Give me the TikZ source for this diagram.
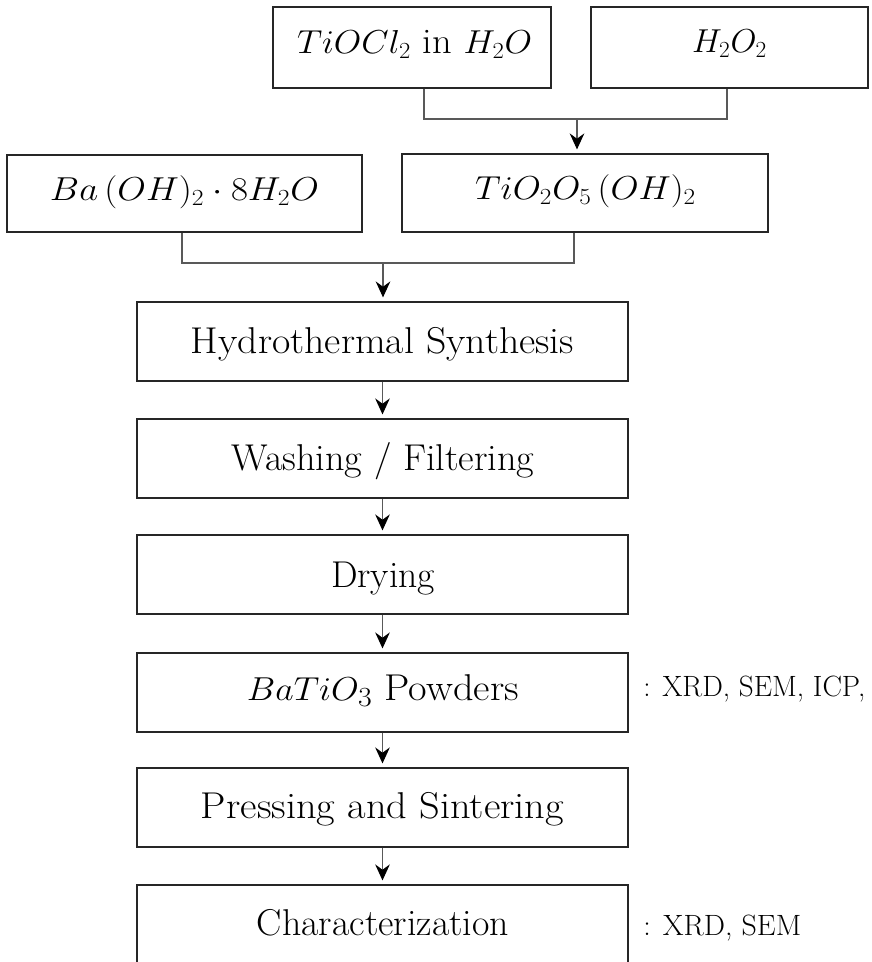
\documentclass[tikz,border=0pt]{standalone}
\usepackage{graphicx}
\usetikzlibrary{arrows.meta}
% one pixel of the layout grid
\newlength\pxu
\setlength\pxu{0.75pt}
% set a text to a given width (in grid pixels), keeping its height
\newcommand\wfit[2]{\resizebox{#1\pxu}{\height}{#2}}

\begin{document}
\begin{tikzpicture}[x=0.75pt,y=-0.75pt,
  pbox/.style 2 args={draw=black!85,line width=0.9pt,inner sep=0pt,
    minimum width=#1*0.75pt,minimum height=#2*0.75pt},
  lbl/.style={anchor=base,inner sep=0pt,font=\fontsize{27}{31}\selectfont},
  step lbl/.style={lbl,font=\fontsize{28}{32}\selectfont},
  note/.style={anchor=base west,inner sep=0pt,font=\fontsize{22}{26}\selectfont},
  conn/.style={draw=black!65,line width=0.8pt},
  arr/.style={conn,-{Stealth[length=12pt,width=11pt,inset=4pt,color=black]},
    shorten >=3pt}]
\useasboundingbox (0,0) rectangle (871,962);

% starting materials
\node[pbox={278}{81}] (toa) at (412,47.5) {};
\node[lbl] (toat) at (414.5,54) {\wfit{235}{$TiOCl_2$\ in\ $H_2O$}};
\node[pbox={277}{81}] (tob) at (729.5,47.5) {};
\node[lbl] (tobt) at (729.5,53) {\wfit{75}{$H_2O_2$}};

\node[pbox={355}{77}] (ba) at (184.5,193.5) {};
\node[lbl] (bat) at (184.5,201) {\wfit{269}{$Ba\,(OH)_2\cdot 8H_2O$}};
\node[pbox={366}{78}] (tio) at (585,193) {};
\node[lbl] (tiot) at (585.5,200) {\wfit{221}{$TiO_2O_5\,(OH)_2$}};

% process steps
\node[pbox={491}{79}] (hyd) at (382.5,341.5) {};
\node[step lbl] (hydt) at (382.5,353) {\wfit{383}{Hydrothermal Synthesis}};
\node[pbox={491}{79}] (wash) at (382.5,458.5) {};
\node[step lbl] (washt) at (383,470) {\wfit{303}{Washing / Filtering}};
\node[pbox={491}{79}] (dry) at (382.5,574.5) {};
\node[step lbl] (dryt) at (383,587) {\wfit{104}{Drying}};
\node[pbox={491}{79}] (pow) at (382.5,692.5) {};
\node[step lbl] (powt) at (383,700) {\wfit{272}{$BaTiO_3$ Powders}};
\node[pbox={491}{79}] (press) at (382.5,807.5) {};
\node[step lbl] (presst) at (382.5,818) {\wfit{363}{Pressing and Sintering}};
\node[pbox={491}{85}] (char) at (382.5,927.5) {};
\node[step lbl] (chart) at (383,935) {\wfit{252}{Characterization}};

% analysis notes
\node[note] (n1) at (643,696) {\wfit{222}{: XRD, SEM, ICP,}};
\node[note] (n2) at (643,935) {\wfit{158}{: XRD, SEM}};

% junctions of the merging lines
\coordinate (ja) at (424,119);
\coordinate (jb) at (727,119);
\coordinate (jm) at (577,119);
\coordinate (jc) at (182,263);
\coordinate (jd) at (574,263);
\coordinate (jn) at (383,263);

\draw[conn] (toa.south -| ja) -- (ja) -- (jb) -- (tob.south -| jb);
\draw[arr] (jm) -- (jm |- tio.north);
\draw[conn] (ba.south -| jc) -- (jc) -- (jd) -- (tio.south -| jd);
\draw[arr] (jn) -- (jn |- hyd.north);

\draw[arr] (hyd.south) -- (wash.north);
\draw[arr] (wash.south) -- (dry.north);
\draw[arr] (dry.south) -- (pow.north);
\draw[arr] (pow.south) -- (press.north);
\draw[arr] (press.south) -- (char.north);
\end{tikzpicture}
\end{document}
